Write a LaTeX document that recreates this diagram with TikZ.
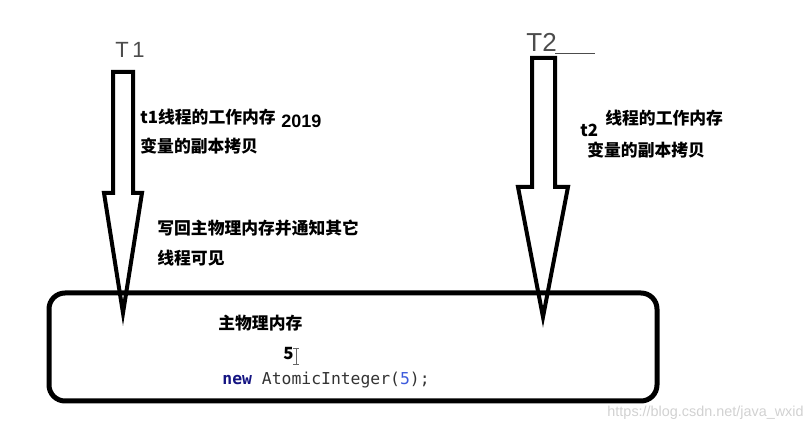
\documentclass[tikz,border=0pt]{standalone}
\usepackage{fontspec}
\setmainfont{Liberation Sans}
\setmonofont{DejaVu Sans Mono}
\newfontfamily\cjk{Noto Sans CJK SC}

\definecolor{kwblue}{RGB}{20,20,130}
\definecolor{numblue}{RGB}{60,90,220}

\begin{document}
\begin{tikzpicture}[x=0.5pt, y=-0.5pt,
    blockarrow/.style={draw, line width=2pt, line join=miter},
    note/.style={anchor=west, inner sep=0pt, font=\cjk\bfseries\fontsize{8.4}{10}\selectfont},
    hand/.style={anchor=west, inner sep=0pt, text=black!70, font=\fontsize{11}{12}\selectfont},
    code/.style={anchor=west, inner sep=0pt, text=black!80, font=\ttfamily\fontsize{8.2}{10}\selectfont}]
    \useasboundingbox (0,0) rectangle (811,432);
    % Main memory
    \draw[line width=2.5pt, rounded corners=8pt] (49,293) rectangle (657,401);
    % Thread arrows
    \draw[blockarrow] (113,72) -- (133,72) -- (133,193) -- (142,193) -- (123,313)
        -- (104,193) -- (113,193) -- cycle;
    \draw[blockarrow] (532,58) -- (555,58) -- (555,187) -- (568,187) -- (543,317)
        -- (518,187) -- (532,187) -- cycle;
    % Thread names
    \node[hand] (T1) at (115,50) {T\,1};
    \node[hand, font=\fontsize{13}{14}\selectfont] (T2) at (526,42) {T2};
    \draw[black!70, thin] (T2.south east) ++(-2,2) coordinate (T2tail) -- ++(40,0);
    % Working memory of t1
    \node[note] (t1mem) at (140,117) {t1线程的工作内存};
    \node[note, font=\bfseries\fontsize{9}{10}\selectfont] (year) at (281,121) {2019};
    \node[note] (t1copy) at (140,146) {变量的副本拷贝};
    \node[note] (writeback) at (157,228) {写回主物理内存并通知其它};
    \node[note] (visible) at (157,258) {线程可见};
    % Working memory of t2
    \node[note] (t2) at (580,130) {t2};
    \node[note] (t2mem) at (605,118) {线程的工作内存};
    \node[note] (t2copy) at (587,150) {变量的副本拷贝};
    % Inside main memory
    \node[note] (mainmem) at (218,323) {主物理内存};
    \node[note] (value) at (283,354) {5};
    \draw[black!60, thin] (296,348) -- (296,364) (293,348) -- (299,348) (293,364) -- (299,364);
    \node[code] (atomic) at (222,380) {\textcolor{kwblue}{\bfseries new} AtomicInteger(\textcolor{numblue}{5});};
    % Watermark
    \node[anchor=east, inner sep=0pt, text=black!18, font=\fontsize{7.2}{8}\selectfont] (mark) at (804,413) {https://blog.csdn.net/java\_wxid};
\end{tikzpicture}
\end{document}
